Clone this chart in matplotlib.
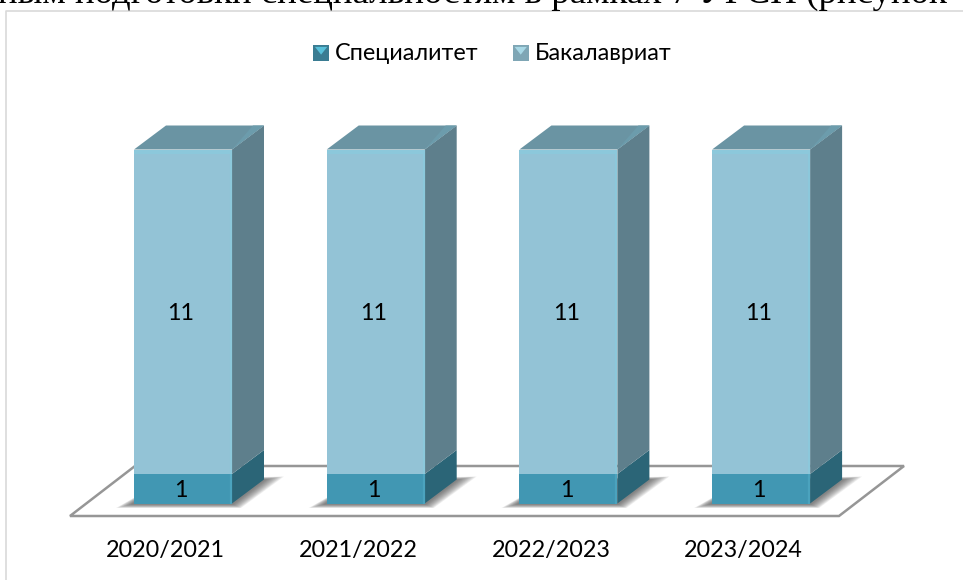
import numpy as np
import matplotlib
matplotlib.use('Agg')
import matplotlib.pyplot as plt
from matplotlib.legend_handler import HandlerBase
from matplotlib.patches import Patch, Polygon, Rectangle

years = ['2020/2021', '2021/2022', '2022/2023', '2023/2024']
specialitet = [1, 1, 1, 1]
bakalavriat = [11, 11, 11, 11]
series_names = ['Специалитет', 'Бакалавриат']
heading = 'ным подготовки специальностям в рамках 7 УГСН (рисунок'

WIDTH, HEIGHT = 963, 580
BAR_STEP = 192.7      # pixels per category
UNIT = 29.5           # pixels per value unit
X0, Y0 = 183, 503.5   # pixel of the first bar centre / of value 0

SANS = ['Lato', 'Open Sans', 'DejaVu Sans']
LABEL_SIZE = 16.8
SPEC = dict(front='#4197b3', side='#2b6577', top='#2b6577', light='#4ba3be')
BACH = dict(front='#93c3d6', side='#5e7f8c', top='#6a94a3', light='#8cc8db')

fig = plt.figure(figsize=(WIDTH / 100, HEIGHT / 100), dpi=100)
ax = fig.add_axes([0, 0, 1, 1])
ax.set_xlim(-X0 / BAR_STEP, (WIDTH - X0) / BAR_STEP)
ax.set_ylim((Y0 - HEIGHT) / UNIT, Y0 / UNIT)
ax.axis('off')

# pixel sizes turned into data units
bar_w = 98 / BAR_STEP
dx = 32 / BAR_STEP
dy = 24 / UNIT


def px_x(p):
    return (p - X0) / BAR_STEP


def px_y(p):
    return (Y0 - p) / UNIT


# chart frame, runs off the top right of the crop
ax.plot([px_x(5.5), px_x(5.5), px_x(970)], [px_y(590), px_y(11.5), px_y(11.5)],
        color='#d9d9d9', lw=1.2, zorder=1)

# heading of the page, cut by the crop in the reference too
fig.text(-2 / WIDTH, 1 - 3 / HEIGHT, heading, family='Liberation Serif', fontsize=26.6,
         color='black', ha='left', va='baseline')

# floor
floor = [(px_x(70), px_y(516)), (px_x(839), px_y(516)),
         (px_x(904), px_y(466)), (px_x(135), px_y(466))]
ax.add_patch(Polygon(floor, closed=True, fc='white', ec='#969696', lw=1.8, zorder=2))


def draw_shadow(i):
    # soft floor shadow, nested polygons get darker toward the bar
    left, right = i - bar_w / 2, i + bar_w / 2
    for k in np.linspace(1, 0, 12):
        grow_l = (3 + 15 * k) / BAR_STEP
        grow_f = (1 + 8 * k) / BAR_STEP
        grow_b = (2 + 18 * k) / BAR_STEP
        low = -(1 + 3.5 * k) / UNIT
        pts = [(left - grow_l, low), (right + grow_f, low),
               (right + dx + grow_b, dy + 3 * k / UNIT), (left + dx, dy)]
        ax.add_patch(Polygon(pts, closed=True, fc='#4a4a4a', ec='none', alpha=0.085, zorder=3))


def draw_block(i, bottom, height, c, bevel_top=False):
    left, right = i - bar_w / 2, i + bar_w / 2
    top = bottom + height
    ax.add_patch(Rectangle((left, bottom), bar_w, height, fc=c['front'], ec='none', zorder=5))
    side = [(right, bottom), (right + dx, bottom + dy), (right + dx, top + dy), (right, top)]
    ax.add_patch(Polygon(side, closed=True, fc=c['side'], ec='none', zorder=5))
    # light bevel along the right edge of the front face
    ax.plot([right - 1 / BAR_STEP] * 2, [bottom, top], color=c['light'], lw=1.6,
            solid_capstyle='butt', zorder=6)
    if bevel_top:
        cap = [(left, top), (right, top), (right + dx, top + dy), (left + dx, top + dy)]
        ax.add_patch(Polygon(cap, closed=True, fc=c['top'], ec='none', zorder=5))
        # lighter wedge at the right of the cap and a soft band on the front top
        wedge = [(right, top), (right + dx, top + dy), (right + dx - 11 / BAR_STEP, top + dy)]
        ax.add_patch(Polygon(wedge, closed=True, fc='#6c9cac', ec='none', zorder=6))
        ax.add_patch(Rectangle((left, top - 4 / UNIT), bar_w, 4 / UNIT, fc=c['light'], ec='none', zorder=6))


for i in range(len(years)):
    draw_shadow(i)
    draw_block(i, 0, specialitet[i], SPEC)
    draw_block(i, specialitet[i], bakalavriat[i], BACH, bevel_top=True)
    # data labels
    ax.text(i - 2 / BAR_STEP, specialitet[i] / 2 - 1.5 / UNIT, str(specialitet[i]), family=SANS,
            fontsize=LABEL_SIZE, ha='center', va='center', color='black', zorder=8)
    ax.text(i - 2 / BAR_STEP, specialitet[i] + bakalavriat[i] / 2 - 1.5 / UNIT, str(bakalavriat[i]),
            family=SANS, fontsize=LABEL_SIZE, ha='center', va='center', color='black', zorder=8)
    # category labels sit left of the bar centre because of the 3D view
    ax.text(i - 17.5 / BAR_STEP, px_y(551), years[i], family=SANS, fontsize=LABEL_SIZE,
            ha='center', va='center', color='black', zorder=8)


class SwatchHandler(HandlerBase):
    def create_artists(self, legend, orig_handle, xdescent, ydescent, width, height, fontsize, trans):
        c = orig_handle.get_facecolor()
        s = max(width, height)
        rect = Rectangle((0, -0.1 * s), s, s, fc=c, ec='none', transform=trans)
        tri = Polygon([(0.12 * s, 0.78 * s), (0.88 * s, 0.78 * s), (0.5 * s, 0.3 * s)], closed=True,
                      fc=orig_handle.get_edgecolor(), ec='none', transform=trans)
        return [rect, tri]


handles = [Patch(fc='#3a7c92', ec='#58c0da'), Patch(fc='#7fa6b5', ec='#a8d8e6')]
leg = ax.legend(handles, series_names, handler_map={Patch: SwatchHandler()},
                loc='center left', bbox_to_anchor=(313 / WIDTH, 1 - 53 / HEIGHT),
                ncol=2, frameon=False, borderpad=0, borderaxespad=0,
                handlelength=0.69, handleheight=0.69, handletextpad=0.26, columnspacing=1.45,
                prop={'family': SANS, 'size': LABEL_SIZE})

fig.savefig('out.png', dpi=100)
